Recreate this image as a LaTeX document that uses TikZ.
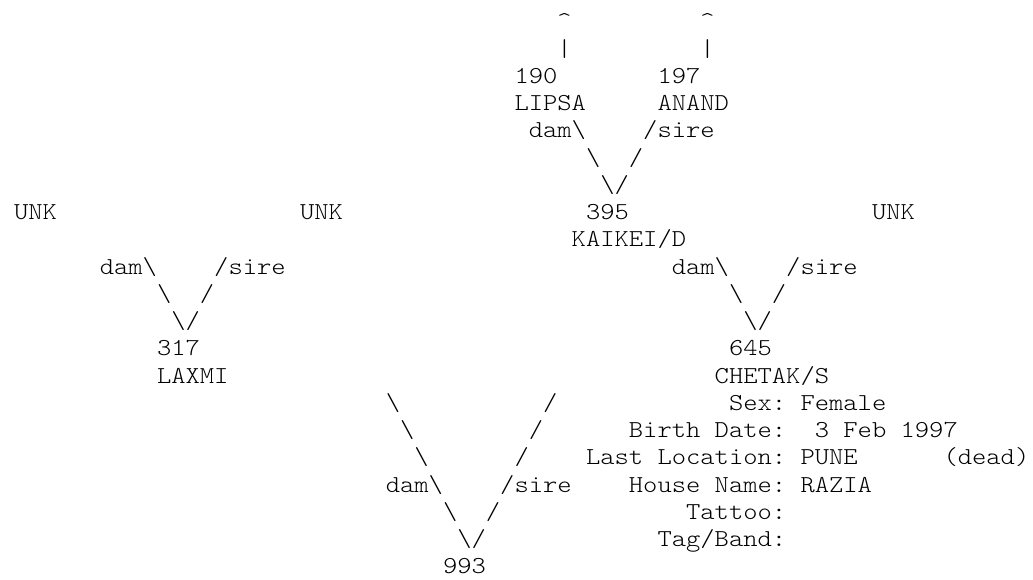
\documentclass[tikz,border=0pt]{standalone}
\usepackage{fontspec}
\newfontfamily\cour{lmmonolt10-regular.otf}[FakeStretch=1.12]
\newcommand\bs{\textbackslash}
\newcommand\tok[4]{\node[tx] (#3) at ({14+14.3*#1},{-28.8-27.25*#2}) {#4};}
\begin{document}
\frenchspacing
\begin{tikzpicture}[x=1pt,y=1pt,
  tx/.style={anchor=base west, inner sep=0pt, outer sep=0pt, text=black,
    font=\cour\fontsize{24.32}{27.25}\selectfont\frenchspacing}]
\useasboundingbox (0,0) rectangle (1033,-579);
% row 0-1
\tok{38}{0}{upA}{\textasciicircum}
\tok{48}{0}{upB}{\textasciicircum}
\tok{38}{1}{barA}{|}
\tok{48}{1}{barB}{|}
% row 2-3
\tok{35}{2}{n190}{190}
\tok{45}{2}{n197}{197}
\tok{35}{3}{lipsa}{LIPSA}
\tok{45}{3}{anand}{ANAND}
% row 4-6 (top V)
\tok{36}{4}{damT}{dam\bs}
\tok{44}{4}{sireT}{/sire}
\tok{40}{5}{tL1}{\bs}
\tok{43}{5}{tR1}{/}
\tok{41}{6}{tV}{\bs/}
% row 7-8
\tok{0}{7}{unkA}{UNK}
\tok{20}{7}{unkB}{UNK}
\tok{40}{7}{n395}{395}
\tok{60}{7}{unkC}{UNK}
\tok{39}{8}{kaikei}{KAIKEI/D}
% row 9-11
\tok{6}{9}{damL}{dam\bs}
\tok{14}{9}{sireL}{/sire}
\tok{46}{9}{damR}{dam\bs}
\tok{54}{9}{sireR}{/sire}
\tok{10}{10}{lL1}{\bs}
\tok{13}{10}{lR1}{/}
\tok{50}{10}{rL1}{\bs}
\tok{53}{10}{rR1}{/}
\tok{11}{11}{lV}{\bs/}
\tok{51}{11}{rV}{\bs/}
% row 12-13
\tok{10}{12}{n317}{317}
\tok{50}{12}{n645}{645}
\tok{10}{13}{laxmi}{LAXMI}
\tok{49}{13}{chetak}{CHETAK/S}
% rows 14-20 (bottom V and details)
\tok{26}{14}{bL1}{\bs}
\tok{37}{14}{bR1}{/}
\tok{50}{14}{sex}{Sex: Female}
\tok{27}{15}{bL2}{\bs}
\tok{36}{15}{bR2}{/}
\tok{43}{15}{birth}{Birth Date:}
\tok{56}{15}{birthv}{3 Feb 1997}
\tok{28}{16}{bL3}{\bs}
\tok{35}{16}{bR3}{/}
\tok{40}{16}{lastloc}{Last Location:}
\tok{55}{16}{pune}{PUNE}
\tok{65}{16}{dead}{(dead)}
\tok{26}{17}{damB}{dam\bs}
\tok{34}{17}{sireB}{/sire}
\tok{43}{17}{house}{House Name: RAZIA}
\tok{30}{18}{bL4}{\bs}
\tok{33}{18}{bR4}{/}
\tok{47}{18}{tattoo}{Tattoo:}
\tok{31}{19}{bV}{\bs/}
\tok{45}{19}{tag}{Tag/Band:}
\tok{30}{20}{n993}{993}
\end{tikzpicture}
\end{document}
